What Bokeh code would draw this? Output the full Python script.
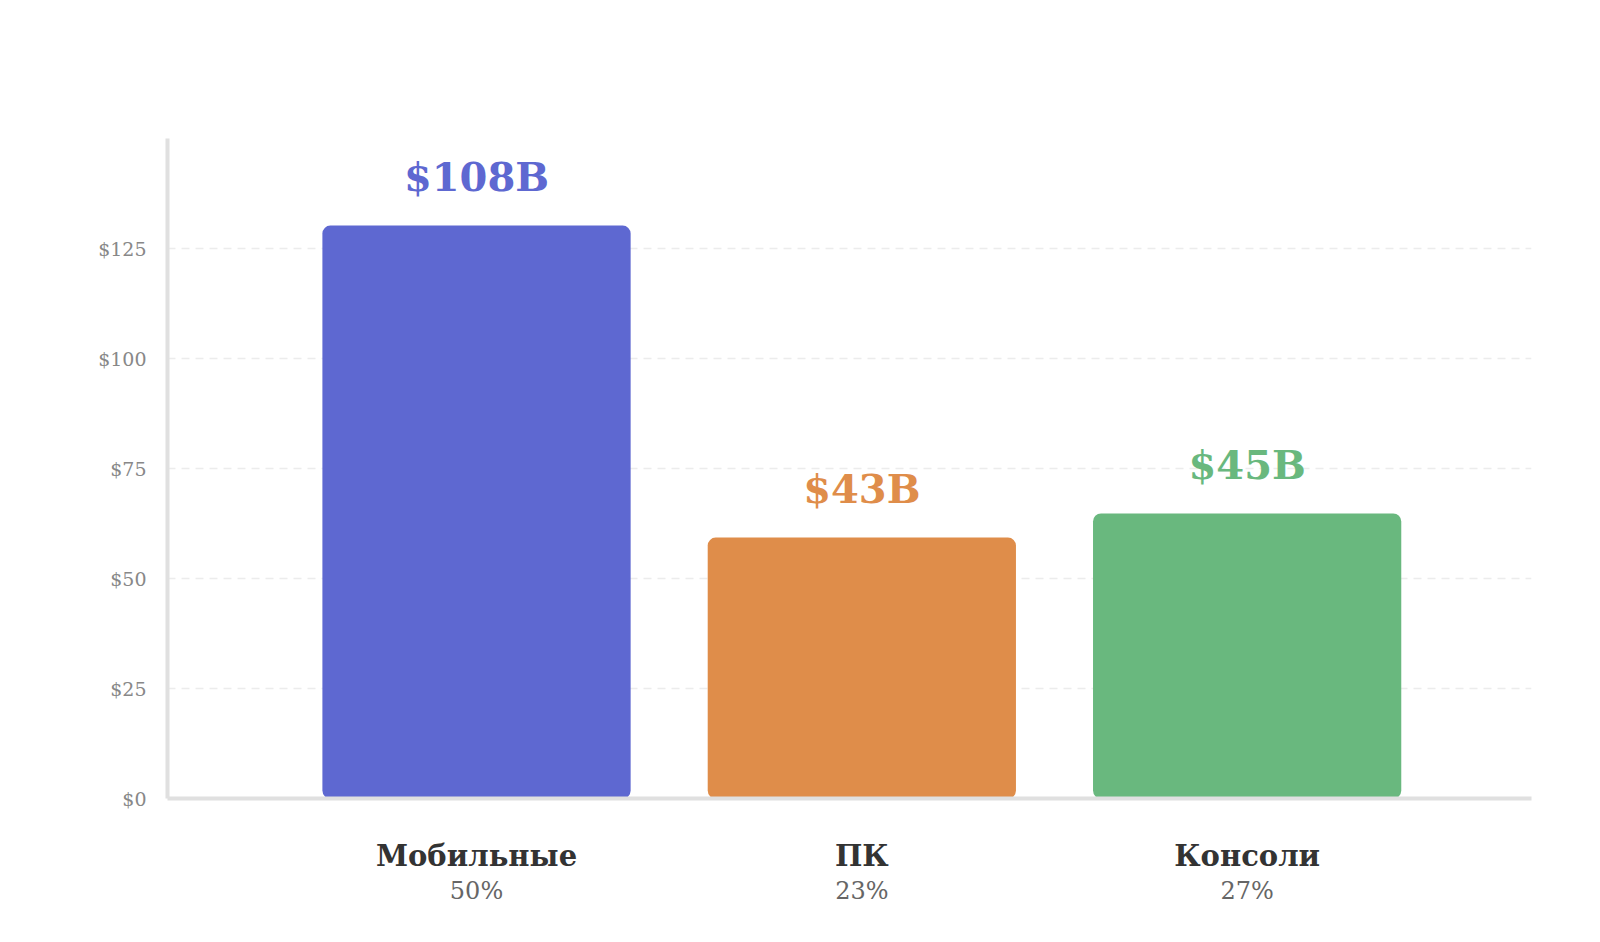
from bokeh.plotting import figure
from bokeh.models import ColumnDataSource, Range1d, FixedTicker, LinearAxis, PrintfTickFormatter
from bokeh.core.properties import value
from bokeh.embed import file_html
from bokeh.resources import INLINE

categories = ["Мобильные", "ПК", "Консоли"]
bar_heights = [130.2, 59.3, 64.8]
value_labels = ["$108B", "$43B", "$45B"]
shares = ["50%", "23%", "27%"]
colors = ["#5E68D1", "#DF8D4A", "#69B87E"]
y_ticks = [0, 25, 50, 75, 100, 125]

FONT = "DejaVu Serif"

xs = list(range(len(categories)))
src = ColumnDataSource(dict(x=xs, top=bar_heights, label=value_labels, color=colors))

p = figure(
    output_backend="svg", toolbar_location=None,
    frame_width=1364, frame_height=660,
    min_border_left=167, min_border_top=138, min_border_right=22, min_border_bottom=30,
    x_range=Range1d(-0.802, 2.738), y_range=Range1d(0, 150),
    x_axis_location=None, y_axis_location="left",
)
p.outline_line_color = None
p.background_fill_color = "white"
p.border_fill_color = "white"
p.xgrid.visible = False

# y axis
ya = p.yaxis[0]
ya.ticker = FixedTicker(ticks=y_ticks)
ya.formatter = PrintfTickFormatter(format="$%d")
ya.axis_line_color = "#e0e0e0"
ya.axis_line_width = 4
ya.major_tick_line_color = None
ya.minor_tick_line_color = None
ya.major_label_standoff = 15
ya.major_label_text_font = FONT
ya.major_label_text_font_size = "19px"
ya.major_label_text_color = "#888888"

p.ygrid.ticker = FixedTicker(ticks=y_ticks[1:])
p.ygrid.grid_line_color = "#ececec"
p.ygrid.grid_line_width = 1.5
p.ygrid.grid_line_dash = "8 6"

# category axis
xa = LinearAxis(ticker=FixedTicker(ticks=xs),
                major_label_overrides={i: c for i, c in zip(xs, categories)})
xa.axis_line_color = "#e0e0e0"
xa.axis_line_width = 4
xa.major_tick_line_color = None
xa.minor_tick_line_color = None
xa.major_label_standoff = 34
xa.major_label_text_font = FONT
xa.major_label_text_font_style = "bold"
xa.major_label_text_font_size = "29px"
xa.major_label_text_color = "#333333"
p.add_layout(xa, "below")

# share axis
sa = LinearAxis(ticker=FixedTicker(ticks=xs),
                major_label_overrides={i: s for i, s in zip(xs, shares)})
sa.axis_line_color = None
sa.major_tick_line_color = None
sa.minor_tick_line_color = None
sa.major_label_standoff = -5
sa.major_label_text_font = FONT
sa.major_label_text_font_size = "24px"
sa.major_label_text_color = "#666666"
p.add_layout(sa, "below")

p.vbar(x="x", top="top", bottom=0, width=0.8, fill_color="color", line_color=None,
       border_radius=8, source=src)

p.text(x="x", y="top", text="label", text_color="color", source=src,
       text_align="center", text_baseline="alphabetic", y_offset=-49,
       text_font=value(FONT), text_font_style="bold", text_font_size="40px")

open("out.html", "w").write(file_html(p, INLINE))
